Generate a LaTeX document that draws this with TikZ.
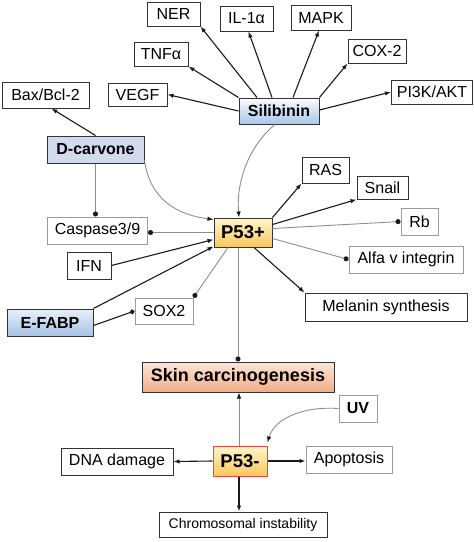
\documentclass[tikz,border=0pt]{standalone}
\usepackage{fontspec}
\setmainfont{Liberation Sans}
\usetikzlibrary{arrows.meta,calc}
\definecolor{lnblack}{HTML}{1A1A1A}
\definecolor{lngray}{HTML}{8E8E8E}
\definecolor{bordk}{HTML}{333333}
\definecolor{bordg}{HTML}{9A9A9A}
\definecolor{redb}{HTML}{E8453C}
\begin{document}
\begin{tikzpicture}[x=1pt,y=-1pt,
  box/.style={draw=bordk,line width=1pt,fill=white,inner sep=0pt,font=\fontsize{16}{19}\selectfont,text=black},
  gbox/.style={box,draw=bordg},
  bbox/.style={box,font=\fontsize{16}{19}\selectfont\bfseries},
  blk/.style={draw=lnblack,line width=1.1pt,-{Latex[length=6pt,width=4.5pt]}},
  gry/.style={draw=lngray,line width=0.9pt,-{Latex[length=6pt,width=4.5pt,color=lnblack]}},
  gdot/.style={draw=lngray,line width=0.9pt,-{Circle[length=5pt,color=lnblack]}},
  kdot/.style={draw=lnblack,line width=1.1pt,-{Circle[length=5pt]}}]
\useasboundingbox[fill=white] (0,0) rectangle (474,542);

% top targets of Silibinin
\node[box,minimum width=53pt,minimum height=24pt] (ner) at (173.5,14) {NER};
\node[box,minimum width=53pt,minimum height=25pt] (il) at (246.5,18.5) {IL-1α};
\node[box,minimum width=60pt,minimum height=25pt] (mapk) at (321,17.5) {MAPK};
\node[box,minimum width=54pt,minimum height=24pt] (tnf) at (161,54) {TNFα};
\node[box,minimum width=58pt,minimum height=24pt] (cox) at (377,51) {COX-2};
\node[box,minimum width=59pt,minimum height=23pt] (vegf) at (137.5,94.5) {VEGF};
\node[box,minimum width=87pt,minimum height=26pt] (bax) at (45.5,95) {Bax/Bcl-2};
\node[box,minimum width=81pt,minimum height=24pt] (pik) at (432,92) {PI3K/AKT};
\node[bbox,minimum width=80pt,minimum height=26pt,top color=white!80!blue!8,bottom color={rgb,255:red,168;green,199;blue,235}] (sil) at (279,111) {Silibinin};

% left side
\node[bbox,minimum width=97pt,minimum height=27pt,fill={rgb,255:red,210;green,218;blue,238}] (dc) at (95.5,149.5) {D-carvone};
\node[gbox,minimum width=100pt,minimum height=27pt] (casp) at (97.5,230.5) {Caspase3/9};
\node[box,minimum width=44pt,minimum height=27pt] (ifn) at (89,265.5) {IFN};
\node[gbox,minimum width=58pt,minimum height=26pt] (sox) at (164,311) {SOX2};
\node[bbox,minimum width=86pt,minimum height=27pt,top color={rgb,255:red,232;green,239;blue,249},bottom color={rgb,255:red,166;green,195;blue,230}] (efabp) at (50,322.5) {E-FABP};

% P53+
\node[box,minimum width=58pt,minimum height=29pt,font=\fontsize{18.5}{21}\selectfont\bfseries,top color={rgb,255:red,255;green,245;blue,205},bottom color={rgb,255:red,249;green,200;blue,92}] (pp) at (243,232.5) {P53+};

% right side
\node[box,minimum width=47pt,minimum height=26pt] (ras) at (325.5,170) {RAS};
\node[box,minimum width=51pt,minimum height=23pt] (snail) at (382.5,187.5) {Snail};
\node[gbox,minimum width=37pt,minimum height=27pt] (rb) at (419.5,221.5) {Rb};
\node[gbox,minimum width=114pt,minimum height=27pt] (alfa) at (406,259.5) {Alfa v integrin};
\node[box,minimum width=162pt,minimum height=28pt] (mel) at (386,307) {Melanin synthesis};

% bottom
\node[box,minimum width=192pt,minimum height=30pt,font=\fontsize{18}{21}\selectfont\bfseries,top color={rgb,255:red,253;green,230;blue,216},bottom color={rgb,255:red,244;green,172;blue,134}] (skin) at (238,377) {Skin carcinogenesis};
\node[gbox,minimum width=38pt,minimum height=27pt,font=\fontsize{16}{19}\selectfont\bfseries] (uv) at (358,408.5) {UV};
\node[box,draw=redb,minimum width=54pt,minimum height=30pt,font=\fontsize{18.5}{21}\selectfont\bfseries,top color={rgb,255:red,255;green,245;blue,205},bottom color={rgb,255:red,249;green,200;blue,92}] (pm) at (240,461) {P53-};
\node[box,minimum width=112pt,minimum height=27pt] (dna) at (117,461.5) {DNA damage};
\node[gbox,minimum width=86pt,minimum height=27pt] (apop) at (349,459.5) {Apoptosis};
\node[box,minimum width=168pt,minimum height=25pt,font=\fontsize{14}{17}\selectfont] (chrom) at (243,524.5) {Chromosomal instability};

% Silibinin connectors
\draw[blk] ([xshift=-22pt]sil.north) -- (ner.south east);
\draw[blk] (sil.north west) -- (tnf.south east);
\draw[blk] (sil.west) -- (vegf.east);
\draw[blk] ([xshift=-7pt]sil.north) -- ([xshift=2pt]il.south);
\draw[blk] ([xshift=14pt]sil.north) -- ([xshift=-2pt]mapk.south);
\draw[blk] (sil.north east) -- (cox.south west);
\draw[blk] ([yshift=1pt]sil.east) -- (pik.west);
\draw[gry] ([xshift=-4pt]sil.south) .. controls (250,145) and (236,180) .. ([xshift=-4pt]pp.north);

% D-carvone connectors
\draw[blk] (dc.north) -- ([xshift=6pt]bax.south);
\draw[gdot] (dc.south) -- (dc.south |- casp.north);
\draw[gry] ([yshift=3pt]dc.south east) .. controls (150,200) and (178,215) .. ([yshift=-2pt]pp.north west);

% into P53+
\draw[gdot] (pp.west) -- (pp.west -| casp.east);
\draw[blk] (ifn.east) -- ([yshift=-7pt]pp.west);
\draw[blk] (efabp.north east) -- ([yshift=1pt]pp.south west);
\draw[kdot] ([yshift=-3pt]efabp.east) -- (sox.west);
\draw[gdot] ([xshift=-15pt]pp.south) -- (sox.north east);

% out of P53+
\draw[blk] (pp.north east) -- (ras.south west);
\draw[blk] ([yshift=-7pt]pp.north east) -- (snail.south west);
\draw[gdot] ([yshift=4pt]pp.east) -- (rb.west);
\draw[gdot] ([yshift=-6pt]pp.east) -- (alfa.west);
\draw[blk] ([xshift=11pt]pp.south) -- (mel.north west);
\draw[gdot] (pp.south -| skin.north) -- (skin.north);

% P53- connectors
\draw[gry] ([xshift=1pt]skin.south |- pm.north) -- ([xshift=1pt]skin.south);
\draw[gry] (uv.west) .. controls (300,406) and (274,420) .. ([yshift=3pt]pm.north east);
\draw[blk] (pm.west) -- (dna.east);
\draw[blk] (pm.east) -- (pm.east -| apop.west);
\draw[blk] ([xshift=-1pt]pm.south) -- ([xshift=-1pt]pm.south |- chrom.north);
\end{tikzpicture}
\end{document}
